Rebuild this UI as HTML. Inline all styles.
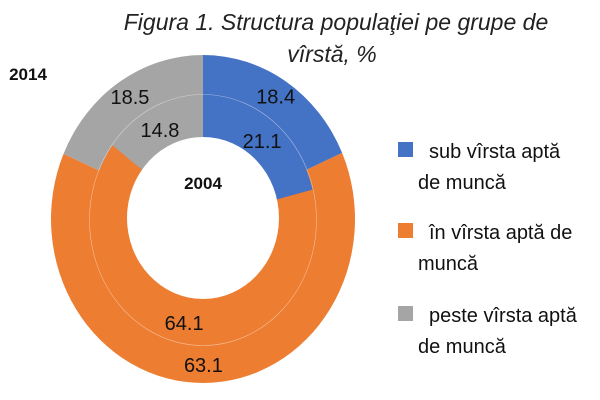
<!DOCTYPE html>
<html><head><meta charset="utf-8"><style>
body{margin:0;background:#fff;}
svg{display:block;font-family:"Liberation Sans",sans-serif;}
</style></head><body>
<svg width="600" height="400" viewBox="0 0 600 400">
<text x="336" y="30" text-anchor="middle" font-size="23" font-style="italic" fill="#222">Figura 1. Structura populaţiei pe grupe de</text>
<text x="332" y="62" text-anchor="middle" font-size="23" font-style="italic" fill="#222">vîrstă, %</text>
<g id="rings"></g>
<text x="28" y="80" text-anchor="middle" font-size="17" font-weight="bold" fill="#111">2014</text>
<text x="203" y="189" text-anchor="middle" font-size="17" font-weight="bold" fill="#111">2004</text>
<g id="labels" font-size="20" fill="#111" text-anchor="middle"></g>
<g font-size="20" fill="#111">
<rect x="398" y="142" width="15" height="15" fill="#4472C4"/>
<text x="429" y="158">sub vîrsta aptă</text>
<text x="418" y="189">de muncă</text>
<rect x="398" y="223" width="15" height="15" fill="#ED7D31"/>
<text x="429" y="239">în vîrsta aptă de</text>
<text x="418" y="270">muncă</text>
<rect x="398" y="306" width="15" height="15" fill="#A5A5A5"/>
<text x="429" y="322">peste vîrsta aptă</text>
<text x="418" y="353">de muncă</text>
</g>
</svg>
<script>
const categories = ["sub", "in", "peste"];
const values2014 = [18.4, 63.1, 18.5];
const values2004 = [21.1, 64.1, 14.8];
const colors = ["#4472C4", "#ED7D31", "#A5A5A5"];
const NS = "http://www.w3.org/2000/svg";
const rings = document.getElementById("rings");
const labels = document.getElementById("labels");

function pt(cx, cy, rx, ry, frac) {
  const a = frac * 2 * Math.PI;
  return [cx + rx * Math.sin(a), cy - ry * Math.cos(a)];
}
function drawPie(vals, cx, cy, rx, ry, name) {
  const tot = vals.reduce((a, b) => a + b, 0);
  let acc = 0;
  vals.forEach((v, i) => {
    const f0 = acc / tot, f1 = (acc + v) / tot;
    acc += v;
    const p0 = pt(cx, cy, rx, ry, f0), p1 = pt(cx, cy, rx, ry, f1);
    const large = (f1 - f0) > 0.5 ? 1 : 0;
    const p = document.createElementNS(NS, "path");
    p.setAttribute("d", `M${cx},${cy} L${p0[0]},${p0[1]} A${rx},${ry} 0 ${large} 1 ${p1[0]},${p1[1]} Z`);
    p.setAttribute("fill", colors[i]);
    
    
    rings.appendChild(p);
  });
}
drawPie(values2014, 203, 219, 152, 164, "ring-2014");
const sep = document.createElementNS(NS, "ellipse");
sep.setAttribute("cx", 203); sep.setAttribute("cy", 220); sep.setAttribute("rx", 113.5); sep.setAttribute("ry", 125.5);
sep.setAttribute("fill", "none"); sep.setAttribute("stroke", "#fff"); sep.setAttribute("stroke-width", "0.6"); sep.setAttribute("stroke-opacity", "0.5");


drawPie(values2004, 203, 220, 113, 125, "ring-2004");
rings.appendChild(sep);
const hole = document.createElementNS(NS, "ellipse");
hole.setAttribute("cx", 203); hole.setAttribute("cy", 218); hole.setAttribute("rx", 76); hole.setAttribute("ry", 81);
hole.setAttribute("fill", "#fff");


rings.appendChild(hole);

function addLabels(vals, cx, cy, rx, ry, name) {
  const tot = vals.reduce((a, b) => a + b, 0);
  let acc = 0;
  vals.forEach((v, i) => {
    const fm = (acc + v / 2) / tot;
    acc += v;
    const p = pt(cx, cy, rx, ry, fm);
    const t = document.createElementNS(NS, "text");
    t.setAttribute("x", p[0]); t.setAttribute("y", p[1] + 7);
    t.textContent = v.toFixed(1);
    
    
    labels.appendChild(t);
  });
}
addLabels(values2014, 203, 219, 133, 146, "ring-2014");
addLabels(values2004, 203, 222, 96, 103, "ring-2004");
</script>
</body></html>
